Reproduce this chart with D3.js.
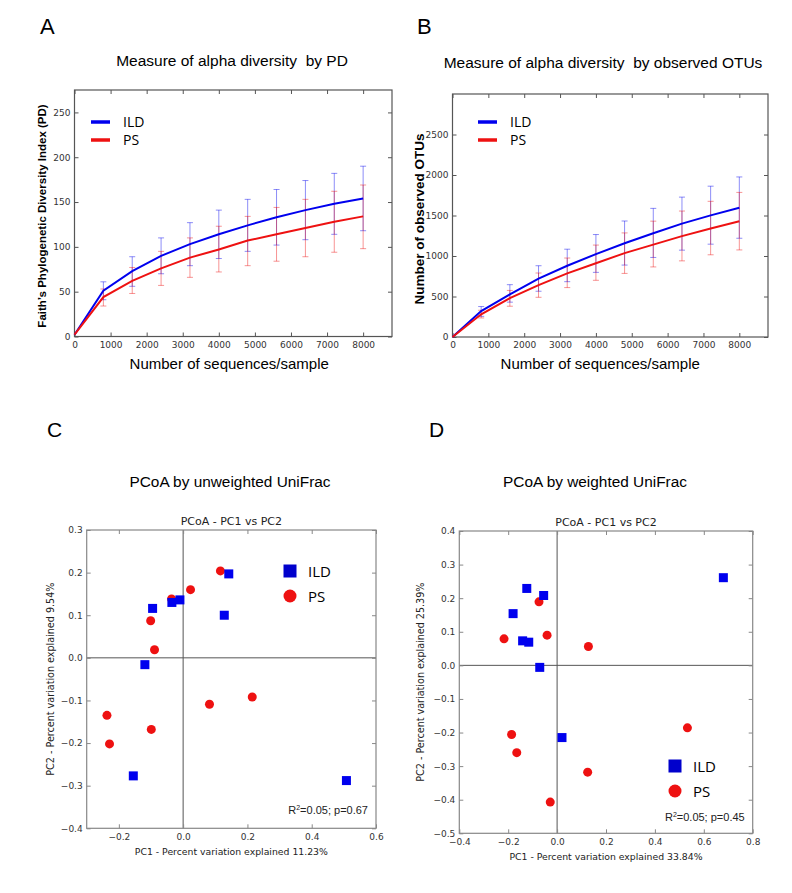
<!DOCTYPE html>
<html>
<head>
<meta charset="utf-8">
<script src="https://cdn.jsdelivr.net/npm/d3@7"></script>
<style>
  body { margin: 0; background: #fff; }
  svg { display: block; }
  text { white-space: pre; }
</style>
</head>
<body>
<script>
// rarefaction depths
const depths = [0, 800, 1600, 2400, 3200, 4000, 4800, 5600, 6400, 7200, 8000];

// panel A - Faith's PD
const pdILD = [2, 51, 73, 90, 103, 114, 124, 133, 141, 148, 154];
const pdILDLo = [2, 41, 56, 70, 79, 87, 95, 102, 108, 114, 118];
const pdILDHi = [2, 61, 89, 110, 127, 141, 153, 164, 174, 182, 190];
const pdPS = [2, 44, 62, 76, 88, 97, 107, 114, 121, 128, 134];
const pdPSLo = [2, 34, 48, 57, 66, 72, 79, 84, 89, 94, 98];
const pdPSHi = [2, 53, 77, 95, 110, 123, 134, 144, 153, 162, 169];

// panel B - observed OTUs
const otuILD = [0, 320, 525, 720, 880, 1023, 1158, 1280, 1400, 1502, 1596];
const otuILDLo = [0, 255, 430, 565, 683, 798, 888, 982, 1072, 1146, 1219];
const otuILDHi = [0, 376, 646, 880, 1084, 1265, 1432, 1588, 1727, 1862, 1976];
const otuPS = [0, 280, 480, 640, 785, 910, 1035, 1140, 1245, 1340, 1430];
const otuPSLo = [0, 235, 380, 490, 610, 700, 785, 865, 940, 1015, 1075];
const otuPSHi = [0, 330, 575, 790, 975, 1135, 1285, 1430, 1555, 1675, 1785];

const xTicksSeq = [0, 1000, 2000, 3000, 4000, 5000, 6000, 7000, 8000];
const yTicksPD = [0, 50, 100, 150, 200, 250];
const yTicksOTU = [0, 500, 1000, 1500, 2000, 2500];

// panel C - unweighted UniFrac PCoA
const cILD = [[0.142, 0.197], [-0.010, 0.136], [-0.035, 0.130], [-0.095, 0.116], [0.128, 0.100],
              [-0.119, -0.016], [-0.155, -0.277], [0.508, -0.288]];
const cPS = [[0.116, 0.204], [0.023, 0.160], [-0.036, 0.138], [-0.101, 0.087], [-0.089, 0.019],
             [0.082, -0.109], [0.215, -0.092], [-0.237, -0.135], [-0.099, -0.168], [-0.229, -0.202]];
const cXTicks = [-0.2, 0.0, 0.2, 0.4, 0.6];
const cYTicks = [0.3, 0.2, 0.1, 0.0, -0.1, -0.2, -0.3, -0.4];

// panel D - weighted UniFrac PCoA
const dILD = [[0.680, 0.261], [-0.124, 0.229], [-0.055, 0.208], [-0.180, 0.154], [-0.141, 0.073],
              [-0.116, 0.069], [-0.071, -0.006], [0.020, -0.215]];
const dPS = [[-0.074, 0.189], [-0.217, 0.079], [-0.041, 0.090], [0.128, 0.056], [-0.186, -0.206],
             [-0.165, -0.260], [0.533, -0.186], [0.125, -0.318], [-0.028, -0.407]];
const dXTicks = [-0.4, -0.2, 0.0, 0.2, 0.4, 0.6, 0.8];
const dYTicks = [0.4, 0.3, 0.2, 0.1, 0.0, -0.1, -0.2, -0.3, -0.4, -0.5];

const blue = "#0000ee";
const red = "#ee1111";
const tickFont = "DejaVu Sans, sans-serif";
const titleFont = "Liberation Sans, Arial, sans-serif";
const legFont = "Open Sans, sans-serif";

const svg = d3.select("body").append("svg")
    .attr("width", 792)
    .attr("height", 893);

const minus = d => d3.format(".1f")(d).replace("-", "\u2212");

function frame(g, x, y, xTicks, yTicks, xFmt, yFmt, color) {
    const [x0, x1] = x.range();
    const [y0, y1] = y.range();
    // inward ticks on all four sides
    const xa = d3.axisBottom(x).tickValues(xTicks).tickFormat(xFmt).tickSizeInner(-4).tickSizeOuter(0).tickPadding(5);
    const xt = d3.axisTop(x).tickValues(xTicks).tickFormat("").tickSizeInner(-4).tickSizeOuter(0);
    const ya = d3.axisLeft(y).tickValues(yTicks).tickFormat(yFmt).tickSizeInner(-4).tickSizeOuter(0).tickPadding(4);
    const yr = d3.axisRight(y).tickValues(yTicks).tickFormat("").tickSizeInner(-4).tickSizeOuter(0);
    [[xa, `translate(0,${y0})`], [xt, `translate(0,${y1})`], [ya, `translate(${x0},0)`], [yr, `translate(${x1},0)`]]
        .forEach(([ax, tr]) => {
            const a = g.append("g").attr("transform", tr).call(ax);
            a.select(".domain").remove();
            a.selectAll("line").attr("stroke", color);
            a.selectAll("text").attr("font-family", tickFont).attr("font-size", 9).attr("fill", "#333");
        });
    g.append("rect")
        .attr("x", x0).attr("y", y1)
        .attr("width", x1 - x0).attr("height", y0 - y1)
        .attr("fill", "none").attr("stroke", color).attr("stroke-width", 1.2);
}

function rarefaction(opt) {
    const g = svg.append("g");
    const x = d3.scaleLinear().domain([0, 8800]).range([opt.left, opt.right]);
    const y = d3.scaleLinear().domain([0, opt.ymax]).range([opt.bottom, opt.top]);
    frame(g, x, y, xTicksSeq, opt.yTicks, d3.format("d"), d3.format("d"), "#555");

    const series = [
        { vals: opt.ild, lo: opt.ildLo, hi: opt.ildHi, color: blue },
        { vals: opt.ps, lo: opt.psLo, hi: opt.psHi, color: red }
    ];
    series.forEach(s => {
        const eb = g.append("g").attr("stroke", s.color).attr("stroke-opacity", 0.45).attr("stroke-width", 1);
        depths.forEach((d, i) => {
            if (d === 0) return;
            eb.append("line").attr("x1", x(d)).attr("x2", x(d)).attr("y1", y(s.lo[i])).attr("y2", y(s.hi[i]));
            eb.append("line").attr("x1", x(d) - 3).attr("x2", x(d) + 3).attr("y1", y(s.lo[i])).attr("y2", y(s.lo[i]));
            eb.append("line").attr("x1", x(d) - 3).attr("x2", x(d) + 3).attr("y1", y(s.hi[i])).attr("y2", y(s.hi[i]));
        });
    });
    series.forEach(s => {
        g.append("path")
            .datum(depths.map((d, i) => [d, s.vals[i]]))
            .attr("fill", "none").attr("stroke", s.color).attr("stroke-width", 2)
            .attr("d", d3.line().x(d => x(d[0])).y(d => y(d[1])));
    });

    // legend
    [["ILD", blue, 0], ["PS", red, 18]].forEach(([t, c, dy]) => {
        g.append("line").attr("x1", opt.legX).attr("x2", opt.legX + 19)
            .attr("y1", opt.legY + dy).attr("y2", opt.legY + dy)
            .attr("stroke", c).attr("stroke-width", 3.5);
        g.append("text").attr("x", opt.legX + 32).attr("y", opt.legY + dy + 5)
            .attr("font-family", legFont).attr("font-size", 14).text(t);
    });

    g.append("text").attr("x", opt.tx).attr("y", opt.ty).attr("text-anchor", "middle")
        .attr("font-family", titleFont).attr("font-size", 15.5).text(opt.title);
    g.append("text").attr("x", (opt.left + opt.right) / 2 + opt.xlOff).attr("y", opt.bottom + 32)
        .attr("text-anchor", "middle").attr("font-family", titleFont).attr("font-size", 15)
        .text("Number of sequences/sample");
    g.append("text").attr("transform", `translate(${opt.ylX},${opt.ylY}) rotate(-90)`)
        .attr("text-anchor", "middle").attr("font-family", titleFont).attr("font-weight", "bold")
        .attr("font-size", opt.ylSize).text(opt.ylabel);
    g.append("text").attr("x", opt.letterX).attr("y", 34)
        .attr("font-family", titleFont).attr("font-size", 22).text(opt.letter);
}

function pcoa(opt) {
    const g = svg.append("g");
    const x = d3.scaleLinear().domain(opt.xd).range([opt.left, opt.right]);
    const y = d3.scaleLinear().domain(opt.yd).range([opt.bottom, opt.top]);
    // zero cross lines
    g.append("line").attr("x1", x(0)).attr("x2", x(0)).attr("y1", opt.top).attr("y2", opt.bottom)
        .attr("stroke", "#555").attr("stroke-width", 1);
    g.append("line").attr("x1", opt.left).attr("x2", opt.right).attr("y1", y(0)).attr("y2", y(0))
        .attr("stroke", "#555").attr("stroke-width", 1);
    frame(g, x, y, opt.xTicks, opt.yTicks, minus, minus, "#888");

    g.selectAll(".ps").data(opt.ps).enter().append("circle")
        .attr("cx", d => x(d[0])).attr("cy", d => y(d[1])).attr("r", 4.5).attr("fill", red);
    g.selectAll(".ild").data(opt.ild).enter().append("rect")
        .attr("x", d => x(d[0]) - 4.5).attr("y", d => y(d[1]) - 4.5)
        .attr("width", 9).attr("height", 9).attr("fill", blue);

    // legend
    g.append("rect").attr("x", opt.legX - 6.5).attr("y", opt.legY - 6.5).attr("width", 13).attr("height", 13).attr("fill", "#0000cc");
    g.append("circle").attr("cx", opt.legX).attr("cy", opt.legY + 25).attr("r", 6.5).attr("fill", red);
    g.append("text").attr("x", opt.legX + 18).attr("y", opt.legY + 6).attr("font-family", legFont).attr("font-size", 15).text("ILD");
    g.append("text").attr("x", opt.legX + 18).attr("y", opt.legY + 31).attr("font-family", legFont).attr("font-size", 15).text("PS");

    const r = g.append("text").attr("x", opt.right - 8).attr("y", opt.rY).attr("text-anchor", "end")
        .attr("font-family", titleFont).attr("font-size", 11).attr("fill", "#222");
    r.append("tspan").text("R");
    r.append("tspan").attr("font-size", 7).attr("dy", -4).text("2");
    r.append("tspan").attr("dy", 4).text("=0.05; p=" + opt.p);

    const cx = (opt.left + opt.right) / 2;
    g.append("text").attr("x", opt.tx).attr("y", 487).attr("text-anchor", "middle")
        .attr("font-family", titleFont).attr("font-size", 15.4).text(opt.title);
    g.append("text").attr("x", cx).attr("y", opt.top - 5).attr("text-anchor", "middle")
        .attr("font-family", tickFont).attr("font-size", 11).attr("fill", "#222").text("PCoA - PC1 vs PC2");
    g.append("text").attr("x", cx).attr("y", opt.bottom + 27).attr("text-anchor", "middle")
        .attr("font-family", tickFont).attr("font-size", 9.3).attr("fill", "#222").text(opt.xlabel);
    g.append("text").attr("transform", `translate(${opt.ylX},${(opt.top + opt.bottom) / 2}) rotate(-90)`)
        .attr("text-anchor", "middle").attr("font-family", tickFont).attr("font-size", 9.6).attr("fill", "#222")
        .text(opt.ylabel);
    g.append("text").attr("x", opt.letterX).attr("y", 437)
        .attr("font-family", titleFont).attr("font-size", 21).text(opt.letter);
}

rarefaction({
    left: 74.5, right: 392, top: 90, bottom: 336.5, ymax: 275, yTicks: yTicksPD,
    ild: pdILD, ildLo: pdILDLo, ildHi: pdILDHi, ps: pdPS, psLo: pdPSLo, psHi: pdPSHi,
    legX: 91, legY: 122, tx: 232, ty: 66, title: "Measure of alpha diversity  by PD",
    xlOff: -4, ylX: 46, ylY: 216, ylSize: 11.5, ylabel: "Faith\u2019s Phylogenetic Diversity Index (PD)",
    letterX: 40, letter: "A"
});

rarefaction({
    left: 452.5, right: 768, top: 94, bottom: 337, ymax: 3000, yTicks: yTicksOTU,
    ild: otuILD, ildLo: otuILDLo, ildHi: otuILDHi, ps: otuPS, psLo: otuPSLo, psHi: otuPSHi,
    legX: 478, legY: 122, tx: 603, ty: 68, title: "Measure of alpha diversity  by observed OTUs",
    xlOff: -10, ylX: 424, ylY: 219, ylSize: 13.5, ylabel: "Number of observed OTUs",
    letterX: 417, letter: "B"
});

pcoa({
    left: 86.7, right: 376, top: 530, bottom: 828.3, xd: [-0.3, 0.6], yd: [-0.4, 0.3],
    xTicks: cXTicks, yTicks: cYTicks, ild: cILD, ps: cPS,
    legX: 290, legY: 571, rY: 814, p: "0.67", tx: 230, title: "PCoA by unweighted UniFrac",
    xlabel: "PC1 - Percent variation explained 11.23%", ylabel: "PC2 - Percent variation explained 9.54%",
    ylX: 54, letterX: 47, letter: "C"
});

pcoa({
    left: 459.3, right: 752.7, top: 531, bottom: 833.3, xd: [-0.4, 0.8], yd: [-0.5, 0.4],
    xTicks: dXTicks, yTicks: dYTicks, ild: dILD, ps: dPS,
    legX: 675, legY: 766, rY: 821, p: "0.45", tx: 595, title: "PCoA by weighted UniFrac",
    xlabel: "PC1 - Percent variation explained 33.84%", ylabel: "PC2 - Percent variation explained 25.39%",
    ylX: 424, letterX: 429, letter: "D"
});
</script>
</body>
</html>
